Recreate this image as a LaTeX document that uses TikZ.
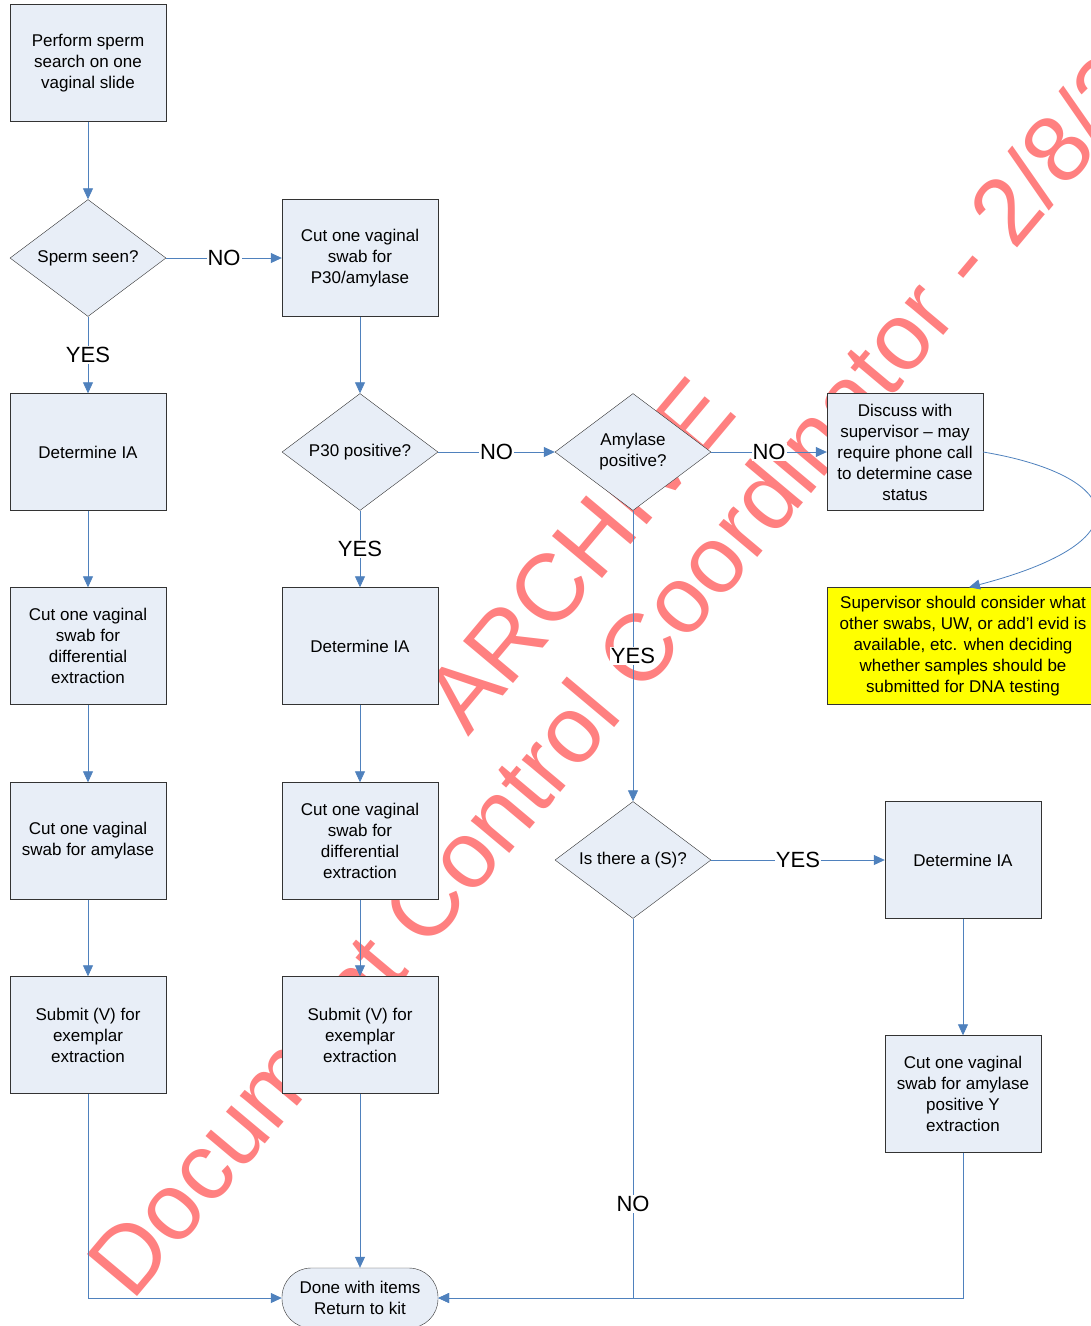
\documentclass[tikz,border=0pt]{standalone}
\usepackage{fontspec}
\setmainfont{Liberation Sans}
\usetikzlibrary{shapes.geometric,arrows.meta}
\definecolor{boxFill}{RGB}{232,238,247}
\definecolor{lineBlue}{RGB}{79,129,189}
\definecolor{noteYellow}{RGB}{255,255,0}
\definecolor{wmRed}{RGB}{255,128,128}
\begin{document}
\begin{tikzpicture}[x=1pt,y=-1pt,
    flowBox/.style={rectangle,draw=black!80,fill=boxFill,minimum width=156pt,minimum height=117pt,inner sep=0pt,align=center,font=\fontsize{17}{21}\selectfont},
    flowDiamond/.style={diamond,aspect=1.33,draw=black!80,fill=boxFill,minimum width=156pt,minimum height=117pt,inner sep=0pt,align=center,font=\fontsize{17}{21}\selectfont},
    flowTerm/.style={rectangle,rounded corners=29pt,draw=black!80,fill=boxFill,minimum width=156pt,minimum height=60pt,inner sep=0pt,align=center,font=\fontsize{17}{21}\selectfont},
    flowNote/.style={flowBox,fill=noteYellow,minimum width=272pt},
    flowArrow/.style={-{Triangle[length=11pt,width=10pt]},draw=lineBlue,line width=0.8pt},
    flowLabel/.style={fill=white,inner sep=1pt,font=\fontsize{22}{22}\selectfont},
    wmText/.style={text=wmRed,rotate=50,anchor=base west,inner sep=0pt,font=\fontsize{95}{95}\selectfont},
]
\useasboundingbox (0,0) rectangle (1091,1326);
\clip (0,0) rectangle (1091,1326);
\node[wmText] (wmDoc) at (132,1303) {Document Control Coordinator - 2/8/2};
\node[wmText] (wmArch) at (468,738) {ARCHIVE};

\node[flowBox] (perform) at (88,63) {Perform sperm\\search on one\\vaginal slide};
\node[flowDiamond] (spermQ) at (88,258) {Sperm seen?};
\node[flowBox] (detIA1) at (88,452) {Determine IA};
\node[flowBox] (cutDiff1) at (88,646) {Cut one vaginal\\swab for\\differential\\extraction};
\node[flowBox] (cutAmy1) at (88,841) {Cut one vaginal\\swab for amylase};
\node[flowBox] (submit1) at (88,1035) {Submit (V) for\\exemplar\\extraction};
\node[flowBox] (cutP30) at (360,258) {Cut one vaginal\\swab for\\P30/amylase};
\node[flowDiamond] (p30Q) at (360,452) {P30 positive?};
\node[flowBox] (detIA2) at (360,646) {Determine IA};
\node[flowBox] (cutDiff2) at (360,841) {Cut one vaginal\\swab for\\differential\\extraction};
\node[flowBox] (submit2) at (360,1035) {Submit (V) for\\exemplar\\extraction};
\node[flowTerm] (done) at (360,1298) {Done with items\\Return to kit};
\node[flowDiamond] (amyQ) at (633,452) {Amylase\\positive?};
\node[flowDiamond] (sQ) at (633,860) {Is there a (S)?};
\node[flowBox] (discuss) at (905,452) {Discuss with\\supervisor – may\\require phone call\\to determine case\\status};
\node[flowNote] (note) at (963,646) {Supervisor should consider what\\other swabs, UW, or add’l evid is\\available, etc. when deciding\\whether samples should be\\submitted for DNA testing};
\node[flowBox] (detIA3) at (963,860) {Determine IA};
\node[flowBox] (cutY) at (963,1094) {Cut one vaginal\\swab for amylase\\positive Y\\extraction};

\draw[flowArrow] (perform) -- (spermQ);
\draw[flowArrow] (spermQ) -- node[flowLabel] {NO} (cutP30);
\draw[flowArrow] (spermQ) -- node[flowLabel] {YES} (detIA1);
\draw[flowArrow] (detIA1) -- (cutDiff1);
\draw[flowArrow] (cutDiff1) -- (cutAmy1);
\draw[flowArrow] (cutAmy1) -- (submit1);
\draw[flowArrow] (submit1) |- (done);
\draw[flowArrow] (cutP30) -- (p30Q);
\draw[flowArrow] (p30Q) -- node[flowLabel] {YES} (detIA2);
\draw[flowArrow] (detIA2) -- (cutDiff2);
\draw[flowArrow] (cutDiff2) -- (submit2);
\draw[flowArrow] (submit2) -- (done);
\draw[flowArrow] (p30Q) -- node[flowLabel] {NO} (amyQ);
\draw[flowArrow] (amyQ) -- node[flowLabel] {NO} (discuss);
\draw[flowArrow] (amyQ) -- node[flowLabel] {YES} (sQ);
\draw[flowArrow] (sQ) -- node[flowLabel] {YES} (detIA3);
\draw[flowArrow] (sQ) |- node[flowLabel,pos=0.376] {NO} (done);
\draw[flowArrow] (detIA3) -- (cutY);
\draw[flowArrow] (cutY) |- (done);
\draw[flowArrow] (discuss.east) .. controls (1120,475) and (1150,540) .. ([xshift=6pt]note.north);
\end{tikzpicture}
\end{document}
